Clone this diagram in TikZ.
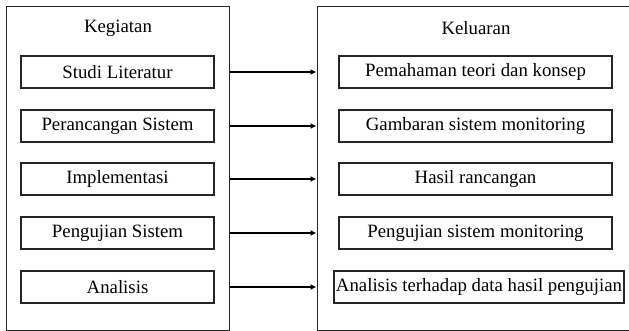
\documentclass[tikz,border=0pt]{standalone}
\usepackage{fontspec}
\setmainfont{Liberation Serif}
\usetikzlibrary{arrows.meta}
\begin{document}
\begin{tikzpicture}[x=1pt,y=-1pt,
  every node/.style={font=\fontsize{18.8}{22}\selectfont, text=black},
  outer/.style={draw=black!85, line width=1pt, minimum width=223pt, minimum height=323pt, inner sep=0pt},
  lbox/.style={draw=black!85, line width=1.3pt, minimum width=193pt, minimum height=32pt, inner sep=0pt},
  rbox/.style={draw=black!85, line width=1.3pt, minimum width=273pt, minimum height=32pt, inner sep=0pt},
  conn/.style={draw=black, line width=1.5pt, -{Latex[length=6pt,width=6pt]}}]
\useasboundingbox (0,0) rectangle (629,331);
\clip (0,0) rectangle (629,331);
\node[outer] (L) at (117.5,168.5) {};
\node[outer, minimum width=316pt] (R) at (475,168.5) {};
\node (tL) at (118,28) {Kegiatan};
\node (tR) at (476,28) {Keluaran};
\node[lbox] (l1) at (117.5,72) {Studi Literatur};
\node[lbox] (l2) at (117.5,126) {Perancangan Sistem};
\node[lbox] (l3) at (117.5,179) {Implementasi};
\node[lbox] (l4) at (117.5,233) {Pengujian Sistem};
\node[lbox] (l5) at (117.5,287) {Analisis};
\node[rbox] (r1) at (475.5,72) {Pemahaman teori dan konsep};
\node[rbox] (r2) at (475.5,126) {Gambaran sistem monitoring};
\node[rbox] (r3) at (475.5,179) {Hasil rancangan};
\node[rbox] (r4) at (475.5,233) {Pengujian sistem monitoring};
\node[rbox, minimum width=290pt] (r5) at (479,287) {Analisis terhadap data hasil pengujian};
\foreach \i in {1,...,5}{
  \draw[conn] (l\i -| L.east) -- (r\i -| R.west);
}
\end{tikzpicture}
\end{document}
